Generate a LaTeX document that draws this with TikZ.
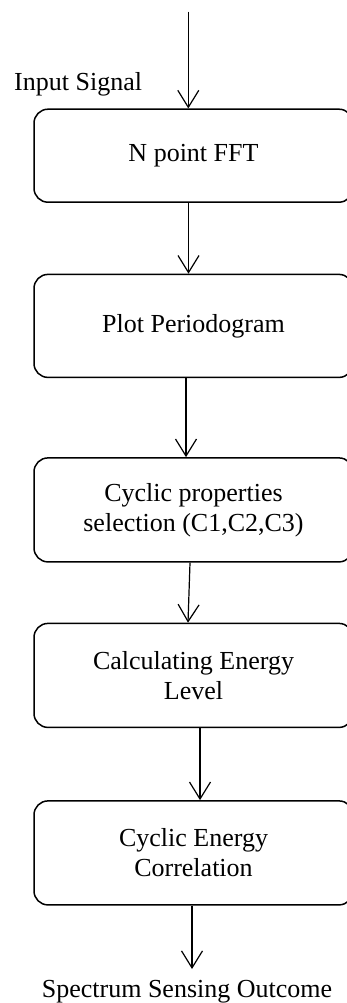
\documentclass[tikz,border=0pt]{standalone}
\usepackage{fontspec}
\setmainfont{Liberation Serif}
\usetikzlibrary{arrows.meta, positioning}
\tikzset{
  procnode/.style={rounded corners=14pt, draw, line width=1.5pt, minimum width=319pt, minimum height=104pt, align=center, font=\fontsize{26}{30}\selectfont, inner sep=2pt},
  labnode/.style={font=\fontsize{26}{30}\selectfont, inner sep=0pt},
  flowarrow/.style={-{Straight Barb[length=17pt, width=21pt]}, line width=1.2pt},
}
\begin{document}
\begin{tikzpicture}[x=1pt, y=1pt]
  \useasboundingbox (0,0) rectangle (347,-1003);
  \node[procnode, minimum height=93pt] (fft) at (193.5,-155.7) {N point FFT};
  \node[procnode, minimum height=103pt, below=70.7pt of fft] (pgram) {Plot Periodogram};
  \node[procnode, below=79pt of pgram] (cyc) {Cyclic properties\\selection (C1,C2,C3)};
  \node[procnode, below=60pt of cyc] (energy) {Calculating Energy\\Level};
  \node[procnode, below=72pt of energy] (corr) {Cyclic Energy\\Correlation};
  \node[labnode, anchor=base west] (insig) at (14,-90.7) {Input Signal};
  \node[labnode, anchor=base] (outc) at (187,-997) {Spectrum Sensing Outcome};
  \coordinate (src) at (188.3,-11.7);
  \coordinate (sink) at (192,-969);
  \draw[flowarrow] (src) -- ([xshift=-5.2pt]fft.north);
  \draw[flowarrow] ([xshift=-5pt]fft.south) -- ([xshift=-5pt]pgram.north);
  \draw[flowarrow] ([xshift=-7.5pt]pgram.south) -- ([xshift=-7.5pt]cyc.north);
  \draw[flowarrow] ([xshift=-3.5pt]cyc.south) -- ([xshift=-5.5pt]energy.north);
  \draw[flowarrow] ([xshift=6.5pt]energy.south) -- ([xshift=6.5pt]corr.north);
  \draw[flowarrow] ([xshift=-1.5pt]corr.south) -- (sink);
\end{tikzpicture}
\end{document}
